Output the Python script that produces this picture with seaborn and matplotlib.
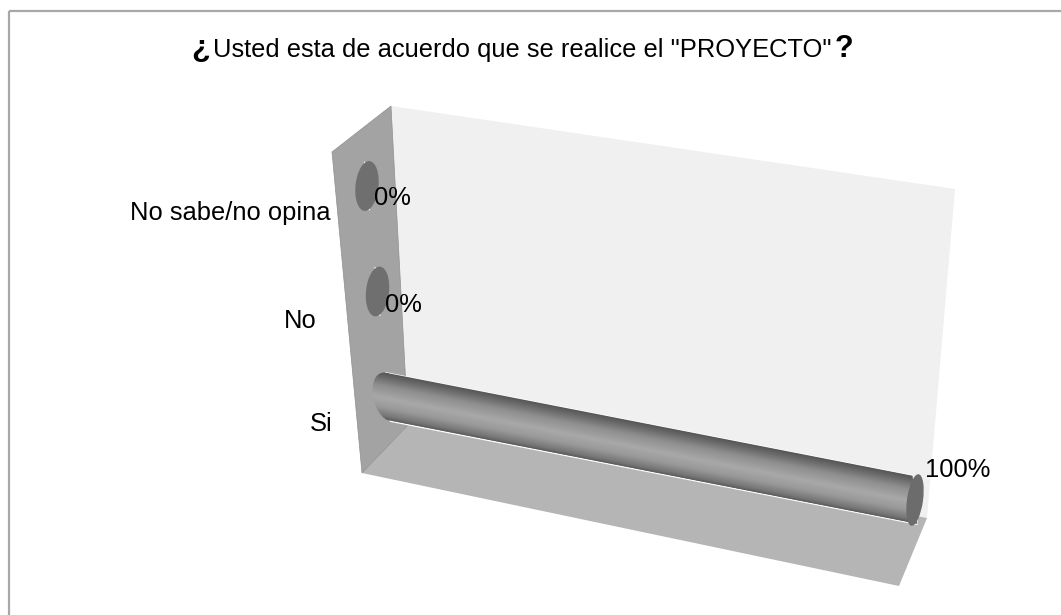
import numpy as np
import pandas as pd
import matplotlib
matplotlib.use("Agg")
import matplotlib.pyplot as plt
import seaborn as sns
from matplotlib.patches import Polygon, Ellipse
from matplotlib.path import Path
from matplotlib.transforms import Affine2D

title_text = 'Usted esta de acuerdo que se realice el "PROYECTO"'
categories = ["Si", "No", "No sabe/no opina"]
values = [1.0, 0.0, 0.0]
value_labels = ["100%", "0%", "0%"]

W, H = 1061, 615
sns.set_theme(style="white")
plt.rcParams["font.family"] = ["Liberation Sans", "DejaVu Sans"]

fig = plt.figure(figsize=(W / 100, H / 100), dpi=100, facecolor="white")
ax = fig.add_axes([0, 0, 1, 1])
df = pd.DataFrame({"categoria": categories, "valor": values})
sns.barplot(data=df, x="valor", y="categoria", order=categories, orient="h",
            width=0.46, color="#8c8c8c", ax=ax, saturation=1)
ax.set_xlim(0, W)
ax.set_ylim(H, 0)
ax.axis("off")

# value/category plane -> picture plane
T = Affine2D(np.array([[527.0, -10.5, 388.0],
                       [103.0, -105.5, 397.0],
                       [0.0, 0.0, 1.0]])) + ax.transData
P = Affine2D(np.array([[527.0, -10.5, 388.0],
                       [103.0, -105.5, 397.0],
                       [0.0, 0.0, 1.0]]))

# frame (top and left rules only)
ax.plot([8.5, W], [10.5, 10.5], color="#a8a8a8", lw=1.6, zorder=1, solid_capstyle="butt")
ax.plot([8.5, 8.5], [10.5, H], color="#a8a8a8", lw=1.6, zorder=1, solid_capstyle="butt")

# 3-D planes
ax.add_patch(Polygon([(391, 106), (955, 189), (927, 518), (408, 425)], closed=True,
                     fc="#f0f0f0", ec="none", zorder=1))
ax.add_patch(Polygon([(362, 473), (408, 425), (927, 518), (899, 586)], closed=True,
                     fc="#b5b5b5", ec="none", zorder=1.1))
ax.add_patch(Polygon([(332, 152), (391, 106), (408, 425), (362, 473)], closed=True,
                     fc="#a3a3a3", ec="#8f8f8f", lw=0.5, zorder=1.2))

# cylinder shading
stops = np.array([0.0, 0.07, 0.25, 0.45, 0.7, 0.9, 1.0])
greys = np.array([0.36, 0.46, 0.60, 0.66, 0.56, 0.40, 0.33])
grad = np.interp(np.linspace(0, 1, 128), stops, greys)[:, None]
half = 0.23
for i, (bar, v) in enumerate(zip(ax.patches, values)):
    bar.set_transform(T)
    bar.set_zorder(2)
    end = P.transform((v, i))
    if v > 0:
        cap = Ellipse((0, i), 0.058, 2 * half)
        rect = Path([(0, i - half), (v, i - half), (v, i + half), (0, i + half), (0, i - half)])
        clip = Path.make_compound_path(rect, cap.get_path().transformed(cap.get_patch_transform()))
        im = ax.imshow(grad, extent=(-0.04, v, i + half, i - half), cmap="gray", vmin=0, vmax=1,
                       aspect="auto", zorder=2.1, interpolation="bilinear")
        im.set_transform(T)
        im.set_clip_path(clip, transform=T)
        ax.add_patch(Ellipse(end, 16, 52, angle=8, fc="#6c6c6c", ec="none", zorder=2.2))
    else:
        ax.add_patch(Ellipse(end, 23, 50, angle=6, fc="#6f6f6f", ec="none", zorder=2.2))
ax.set_xlim(0, W)
ax.set_ylim(H, 0)

# value labels
fs = 18.4
offsets = {0: (10, -30), 1: (7, 13), 2: (7, 12)}
for i, (lab, v) in enumerate(zip(value_labels, values)):
    x, y = P.transform((v, i))
    dx, dy = offsets[i]
    ax.text(x + dx, y + dy, lab, fontsize=fs, color="black", ha="left", va="center", zorder=5)

# category labels
cat_pos = {0: (333, 424), 1: (317, 321), 2: (330, 213)}
for i, lab in enumerate(categories):
    x, y = cat_pos[i]
    ax.text(x, y, lab, fontsize=fs, color="black", ha="right", va="center", zorder=5)

# title
r = fig.canvas.get_renderer()
xpos = 191
yt = 57
for s, kw in [("¿", dict(fontsize=22, fontweight="bold")),
              (title_text, dict(fontsize=fs)),
              ("?", dict(fontsize=22, fontweight="bold"))]:
    t = ax.text(xpos, yt, s, color="black", ha="left", va="baseline", zorder=5, **kw)
    xpos = t.get_window_extent(r).x1 + 3
    yt = yt

fig.savefig("out.png", dpi=100, facecolor="white")
